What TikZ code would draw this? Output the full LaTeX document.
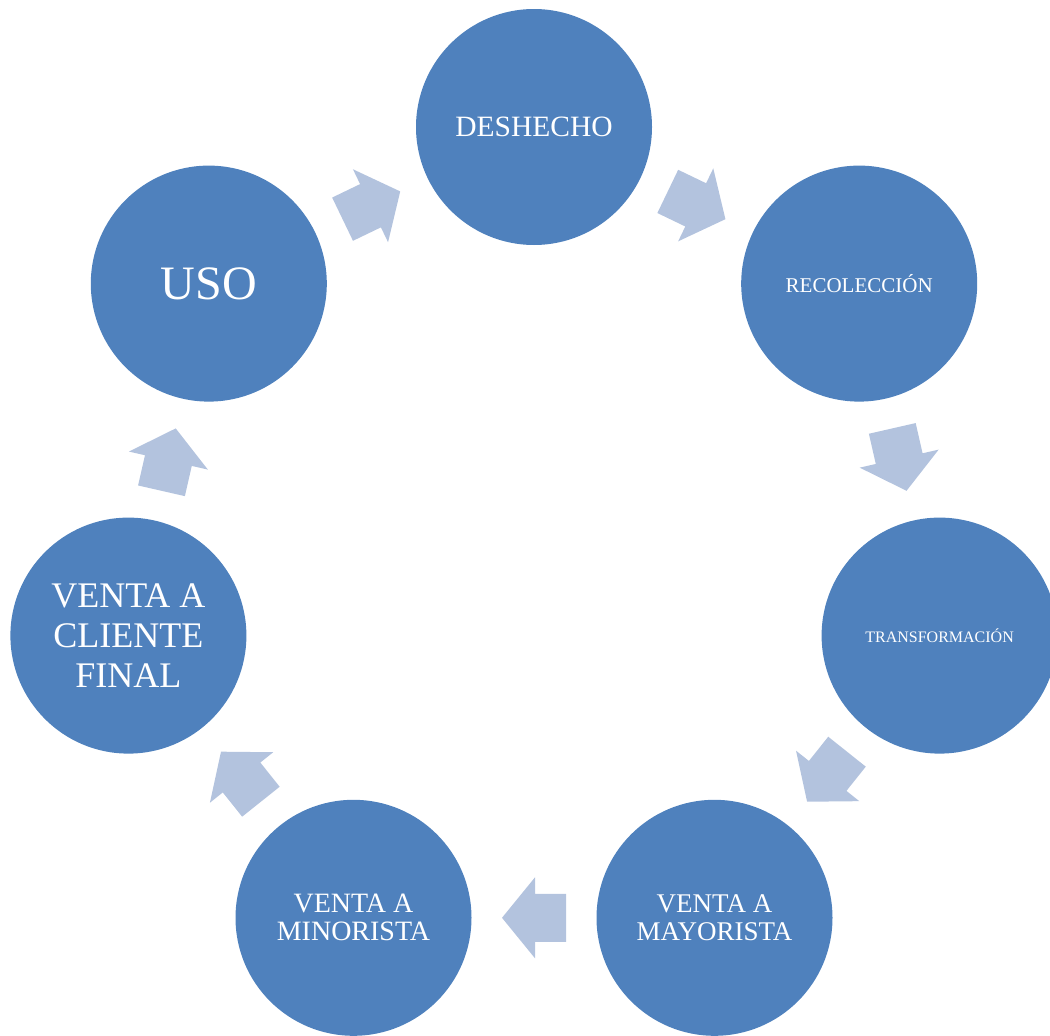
\documentclass[tikz,border=0pt]{standalone}
\usepackage{fontspec}
\setmainfont{Liberation Serif}
\usetikzlibrary{calc}
\definecolor{ringblue}{HTML}{4F81BD}
\definecolor{arrowblue}{HTML}{B3C3DE}
\tikzset{
  stage/.style={circle, fill=ringblue, draw=none, minimum size=236pt,
    inner sep=0pt, text=white, align=center},
  flecha/.pic={
    \fill[arrowblue] (-32pt,-24pt) -- (-1pt,-24pt) -- (-1pt,-40.5pt)
      -- (32pt,0pt) -- (-1pt,40.5pt) -- (-1pt,24pt) -- (-32pt,24pt) -- cycle;
  }
}
\begin{document}
\begin{tikzpicture}[x=1pt,y=-1pt]
  \useasboundingbox (0,0) rectangle (1050,1036);
  \clip (0,0) rectangle (1050,1036);
  % seven stages on a ring of radius 416 around (534,543)
  \coordinate (ring) at (534,543);
  \node[stage, font=\fontsize{29.5}{31}\selectfont] (deshecho) at (534,127) {DESHECHO};
  \node[stage, font=\fontsize{21}{23}\selectfont] (recoleccion) at (859.2,283.6) {RECOLECCIÓN};
  \node[stage, font=\fontsize{16}{18}\selectfont] (transformacion) at (939.6,635.6) {TRANSFORMACIÓN};
  \node[stage, font=\fontsize{27}{28}\selectfont] (mayorista) at (714.5,917.8) {VENTA A\\MAYORISTA};
  \node[stage, font=\fontsize{28}{28}\selectfont] (minorista) at (353.5,917.8) {VENTA A\\MINORISTA};
  \node[stage, font=\fontsize{36}{40}\selectfont] (cliente) at (128.4,635.6) {VENTA A\\CLIENTE\\FINAL};
  \node[stage, font=\fontsize{48}{50}\selectfont] (uso) at (208.8,283.6) {USO};
  % block arrows halfway between neighbouring stages, pointing clockwise
  \coordinate (m1) at ($(deshecho)!0.5!(recoleccion)$);
  \coordinate (m2) at ($(recoleccion)!0.5!(transformacion)$);
  \coordinate (m3) at ($(transformacion)!0.5!(mayorista)$);
  \coordinate (m4) at ($(mayorista)!0.5!(minorista)$);
  \coordinate (m5) at ($(minorista)!0.5!(cliente)$);
  \coordinate (m6) at ($(cliente)!0.5!(uso)$);
  \coordinate (m7) at ($(uso)!0.5!(deshecho)$);
  \pic[rotate=-25.71] at (m1) {flecha};
  \pic[rotate=-77.14] at (m2) {flecha};
  \pic[rotate=-128.57] at (m3) {flecha};
  \pic[rotate=180] at (m4) {flecha};
  \pic[rotate=128.57] at (m5) {flecha};
  \pic[rotate=77.14] at (m6) {flecha};
  \pic[rotate=25.71] at (m7) {flecha};
\end{tikzpicture}
\end{document}
